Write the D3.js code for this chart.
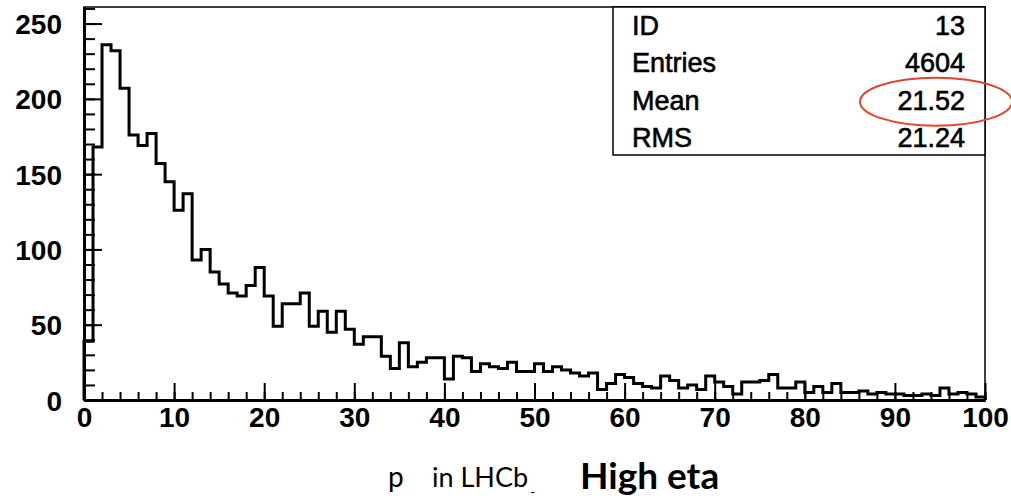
<!DOCTYPE html>
<html>
<head>
<meta charset="utf-8">
<script src="https://cdn.jsdelivr.net/npm/d3@7"></script>
<style>
  body { margin: 0; background: #fff; }
  svg { display: block; }
  .tick text { font-family: "Liberation Sans", Arial, sans-serif; font-weight: bold; font-size: 28px; fill: #000; }
</style>
</head>
<body>
<svg id="chart" width="1011" height="499"></svg>
<script>
// histogram: 100 bins of width 1 between 0 and 100
const binEdges = d3.range(0, 100, 1);
const binCounts = [
  39, 168, 236, 232, 207, 176, 169, 177, 157, 145,
  126, 137, 93, 100, 85, 77, 71, 69, 76, 88,
  69, 49, 64, 64, 71, 49, 59, 45, 59, 47,
  37, 42, 42, 29, 21, 38, 22, 25, 28, 28,
  14, 29, 28, 19, 24, 22, 21, 25, 19, 19,
  24, 19, 22, 20, 18, 16, 18, 7, 11, 17,
  15, 11, 9, 8, 16, 13, 8, 10, 7, 16,
  12, 9, 4, 12, 12, 13, 17, 8, 8, 12,
  5, 9, 5, 11, 5, 5, 6, 4, 5, 4,
  4, 3, 3, 4, 3, 8, 4, 5, 4, 2
];
const xMajorTicks = d3.range(0, 101, 10);
const xMinorTicks = d3.range(0, 101, 2);
const yMajorTicks = d3.range(0, 251, 50);
const yMinorTicks = d3.range(0, 261, 10);
const statLabels = ["ID", "Entries", "Mean", "RMS"];
const statValues = ["13", "4604", "21.52", "21.24"];

const svg = d3.select("#chart");
const margin = {left: 84, top: 7, right: 26, bottom: 99};
const W = 1011, H = 499;

const x = d3.scaleLinear().domain([0, 100]).range([margin.left, W - margin.right]);
const y = d3.scaleLinear().domain([0, 261]).range([H - margin.bottom, margin.top]);

// frame (top + right thin)
svg.append("rect")
  .attr("x", x(0)).attr("y", y(261))
  .attr("width", x(100) - x(0)).attr("height", y(0) - y(261))
  .attr("fill", "none").attr("stroke", "#000").attr("stroke-width", 1.5);

// histogram outline
const pts = [[0, 0]].concat(binEdges.map((e, i) => [e, binCounts[i]]),
  [[100, binCounts[binCounts.length - 1]], [100, 0]]);
const line = d3.line().x(d => x(d[0])).y(d => y(d[1])).curve(d3.curveStepAfter);
svg.append("path")
  .attr("d", line(pts))
  .attr("fill", "none").attr("stroke", "#000")
  .attr("stroke-width", 3).attr("stroke-linejoin", "miter");

// axes: ticks point inward
const gx = svg.append("g").attr("transform", `translate(0,${y(0)})`);
gx.append("g").call(d3.axisBottom(x).tickValues(xMinorTicks).tickSizeInner(-8).tickSizeOuter(0).tickFormat(""));
gx.append("g").call(d3.axisBottom(x).tickValues(xMajorTicks).tickSizeInner(-17).tickSizeOuter(0).tickPadding(7).tickFormat(d3.format("d")));

const gy = svg.append("g").attr("transform", `translate(${x(0)},0)`);
gy.append("g").call(d3.axisLeft(y).tickValues(yMinorTicks).tickSizeInner(-11).tickSizeOuter(0).tickFormat(""));
gy.append("g").call(d3.axisLeft(y).tickValues(yMajorTicks).tickSizeInner(-18).tickSizeOuter(0).tickPadding(22).tickFormat(d3.format("d")));

svg.selectAll(".tick line").attr("stroke", "#000").attr("stroke-width", 2);
svg.selectAll(".domain").attr("stroke", "#000").attr("stroke-width", 3);
gy.selectAll(".tick text").attr("dy", "0.36em");

// stats box
const boxL = 613, boxB = 155;
svg.append("rect")
  .attr("x", boxL).attr("y", y(261))
  .attr("width", x(100) - boxL).attr("height", boxB - y(261))
  .attr("fill", "#fff").attr("stroke", "#000").attr("stroke-width", 1.5);
const row = d3.scalePoint().domain(statLabels).range([35, 147]);
const stats = svg.append("g")
  .style("font-family", "'Liberation Sans', Arial, sans-serif")
  .style("font-size", "27px")
  .attr("stroke", "#000").attr("stroke-width", 0.6);
stats.selectAll("text.lab").data(statLabels).join("text")
  .attr("class", "lab").attr("x", boxL + 19).attr("y", d => row(d)).text(d => d);
stats.selectAll("text.val").data(statValues).join("text")
  .attr("class", "val").attr("x", 965).attr("y", (d, i) => row(statLabels[i]))
  .attr("text-anchor", "end").text(d => d);

// red annotation round the mean
svg.append("ellipse")
  .attr("cx", 936).attr("cy", row("Mean") - 8)
  .attr("rx", 76).attr("ry", 24)
  .attr("fill", "none").attr("stroke", "#e2442e").attr("stroke-width", 2);

// axis title
const title = svg.append("g").attr("fill", "#000");
title.append("text").attr("x", 388).attr("y", 487)
  .style("font-family", "Lato, sans-serif").style("font-size", "28px").text("p");
title.append("text").attr("x", 432).attr("y", 487)
  .style("font-family", "Lato, sans-serif").style("font-size", "27px").text("in LHCb");
title.append("text").attr("x", 530).attr("y", 497)
  .style("font-family", "Lato, sans-serif").style("font-size", "14px").text("-");
title.append("text").attr("x", 580).attr("y", 489)
  .style("font-family", "Lato, sans-serif").style("font-weight", "bold").style("font-size", "37px").text("High eta");
</script>
</body>
</html>
